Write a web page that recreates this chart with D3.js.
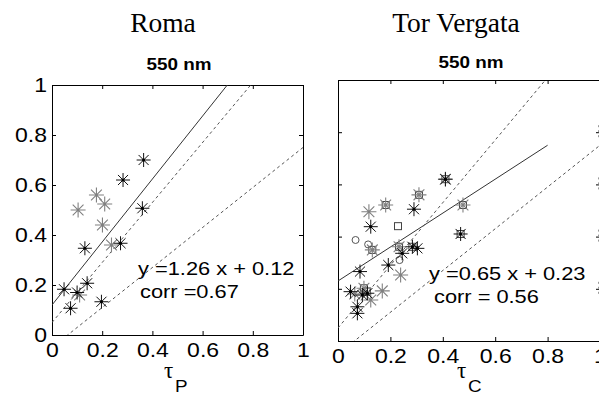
<!DOCTYPE html>
<html>
<head>
<meta charset="utf-8">
<script src="https://cdn.jsdelivr.net/npm/d3@7"></script>
<style>
  body { margin: 0; background: #fff; }
  svg { display: block; }
</style>
</head>
<body>
<div id="chart"></div>
<script>
// tick values / labels shared by both panels
const ticks = [0, 0.2, 0.4, 0.6, 0.8, 1];
const tickLabels = ["0", "0.2", "0.4", "0.6", "0.8", "1"];

// Roma (tau_P vs AOT at 550 nm)
const romaBlack = [[0.365, 0.70], [0.283, 0.62], [0.36, 0.507], [0.131, 0.347], [0.273, 0.367],
                   [0.048, 0.183], [0.10, 0.17], [0.14, 0.207], [0.074, 0.107], [0.197, 0.133]];
const romaGray = [[0.177, 0.56], [0.21, 0.524], [0.104, 0.50], [0.201, 0.44], [0.237, 0.36], [0.11, 0.16]];
const romaFit = [1.26, 0.12];   // slope, intercept
const romaCorr = 0.67;

// Tor Vergata (tau_C)
const tvBlack = [[0.41, 0.62], [0.29, 0.505], [0.125, 0.438], [0.468, 0.41], [0.245, 0.336], [0.192, 0.291],
                 [0.084, 0.266], [0.048, 0.189], [0.093, 0.176], [0.112, 0.183], [0.074, 0.131],
                 [0.074, 0.106], [0.303, 0.355], [0.284, 0.361]];
const tvGray = [[0.309, 0.56], [0.182, 0.521], [0.118, 0.495], [0.477, 0.521], [0.131, 0.349],
                [0.233, 0.361], [0.239, 0.253], [0.099, 0.202], [0.169, 0.192], [0.125, 0.157],
                [0.41, 0.62], [0.064, 0.18]];
const tvSquares = [[0.229, 0.44], [0.182, 0.521], [0.477, 0.521], [0.468, 0.41], [0.131, 0.349],
                   [0.233, 0.361], [0.284, 0.361], [0.099, 0.202], [0.309, 0.56], [0.41, 0.62], [0.11, 0.19]];
const tvCircles = [[0.067, 0.387], [0.115, 0.37], [0.235, 0.31]];
const tvFit = [0.65, 0.23];
const tvCorr = 0.56;

// expected error envelope (dashed)
const envUpper = [1.2, 0.05];
const envLower = [0.8, -0.05];

// the next panel's tick labels only show as a sliver at the right border
const nextPanelTicks = [0.8, 0.6, 0.4, 0.2];

const width = 599, height = 396;
const stretch = 1.18;  // sans text is a bit wide in the picture

let svg = d3.select("#chart")
    .append("svg")
    .attr("width", width)
    .attr("height", height);

function sansText(g, x, y, str, size, anchor, weight) {
    return g.append("text")
        .attr("transform", `translate(${x},${y}) scale(${stretch},1)`)
        .attr("text-anchor", anchor || "start")
        .attr("font-family", "Liberation Sans, Arial, sans-serif")
        .attr("font-size", size)
        .attr("font-weight", weight || "normal")
        .attr("fill", "#000")
        .text(str);
}

function starPath(r) {
    const d = r * 0.72;
    return `M${-r},0L${r},0M0,${-r}L0,${r}M${-d},${-d}L${d},${d}M${-d},${d}L${d},${-d}`;
}

function panel(opt) {
    const x = d3.scaleLinear().domain([0, 1]).range([opt.left, opt.right]);
    const y = d3.scaleLinear().domain([0, 1]).range([opt.bottom, opt.top]);
    const g = svg.append("g");

    const clipId = "clip" + opt.id;
    svg.append("clipPath").attr("id", clipId)
        .append("rect")
        .attr("x", opt.left).attr("y", opt.top)
        .attr("width", opt.right - opt.left).attr("height", opt.bottom - opt.top);

    // axes: inward ticks on every side (matlab box)
    g.append("g")
        .attr("transform", `translate(0,${opt.bottom})`)
        .call(d3.axisBottom(x).tickValues(ticks).tickSizeInner(-4).tickSizeOuter(0)
            .tickPadding(8).tickFormat((d, i) => tickLabels[i]));
    g.append("g")
        .attr("transform", `translate(0,${opt.top})`)
        .call(d3.axisTop(x).tickValues(ticks).tickSizeInner(-4).tickSizeOuter(0).tickFormat(""));
    g.append("g")
        .attr("transform", `translate(${opt.left},0)`)
        .call(d3.axisLeft(y).tickValues(ticks).tickSizeInner(-4).tickSizeOuter(0)
            .tickPadding(6).tickFormat((d, i) => opt.yLabels ? tickLabels[i] : ""));
    g.append("g")
        .attr("transform", `translate(${opt.right},0)`)
        .call(d3.axisRight(y).tickValues(ticks).tickSizeInner(-4).tickSizeOuter(0).tickFormat(""));

    g.selectAll(".domain").attr("stroke", "#000").attr("stroke-width", 1);
    g.selectAll(".tick line").attr("stroke", "#000");
    g.selectAll(".tick text")
        .attr("font-family", "Liberation Sans, Arial, sans-serif")
        .attr("font-size", 19.5)
        .attr("fill", "#000");
    // widen the labels like the picture
    g.selectAll(".tick text").each(function () {
        const t = d3.select(this);
        if (t.attr("x") && +t.attr("x") < 0) {
            t.attr("x", -5 / stretch);
        }
        t.attr("transform", `scale(${stretch},1)`);
    });

    // lines
    const lines = g.append("g").attr("clip-path", `url(#${clipId})`);
    const line = d3.line().x(d => x(d[0])).y(d => y(d[1]));
    const ends = (coef, xmax) => [[0, coef[1]], [xmax, coef[0] * xmax + coef[1]]];

    lines.append("path").attr("d", line(ends(opt.fit, opt.fitMax)))
        .attr("fill", "none").attr("stroke", "#333").attr("stroke-width", 1);
    lines.append("path").attr("d", line(ends(envUpper, 1)))
        .attr("fill", "none").attr("stroke", "#555").attr("stroke-width", 1)
        .attr("stroke-dasharray", "3,3");
    lines.append("path").attr("d", line(ends(envLower, 1)))
        .attr("fill", "none").attr("stroke", "#555").attr("stroke-width", 1)
        .attr("stroke-dasharray", "3,3");

    // markers
    const marks = g.append("g");
    if (opt.squares) {
        marks.selectAll(".sq").data(opt.squares).join("rect")
            .attr("x", d => x(d[0]) - 3.5).attr("y", d => y(d[1]) - 3.5)
            .attr("width", 7).attr("height", 7)
            .attr("fill", "none").attr("stroke", "#444").attr("stroke-width", 1);
    }
    if (opt.circles) {
        marks.selectAll(".ci").data(opt.circles).join("circle")
            .attr("cx", d => x(d[0])).attr("cy", d => y(d[1])).attr("r", 3.5)
            .attr("fill", "none").attr("stroke", "#555").attr("stroke-width", 1);
    }
    marks.selectAll(".sg").data(opt.gray).join("path")
        .attr("transform", d => `translate(${x(d[0])},${y(d[1])})`)
        .attr("d", starPath(7.5))
        .attr("fill", "none").attr("stroke", "#808080").attr("stroke-width", 1.1);
    marks.selectAll(".sb").data(opt.black).join("path")
        .attr("transform", d => `translate(${x(d[0])},${y(d[1])})`)
        .attr("d", starPath(7))
        .attr("fill", "none").attr("stroke", "#111").attr("stroke-width", 1);
    marks.selectAll(".dot").data(opt.black).join("circle")
        .attr("cx", d => x(d[0])).attr("cy", d => y(d[1])).attr("r", 1.6)
        .attr("fill", "#000");

    // titles
    svg.append("text")
        .attr("x", opt.titleX).attr("y", 32)
        .attr("text-anchor", "middle")
        .attr("font-family", "Liberation Serif, Times New Roman, serif")
        .attr("font-size", 27.5)
        .text(opt.title);
    sansText(svg, opt.subX, opt.subY, "550 nm", 16, "middle", "bold");

    // fit annotation
    sansText(svg, opt.eqX, opt.eqY, `y =${opt.fit[0].toFixed(2)} x + ${opt.fit[1].toFixed(2)}`, 18.5);
    sansText(svg, opt.eqX + opt.corrDx, opt.eqY + opt.corrDy, opt.corrText, 18.5);

    // x label: tau with subscript
    svg.append("text")
        .attr("x", opt.tauX).attr("y", 378)
        .attr("font-family", "Liberation Serif, Times New Roman, serif")
        .attr("font-size", 23)
        .text("\u03C4");
    sansText(svg, opt.tauX + 11, 392, opt.sub, 16);

    return {x, y};
}

panel({
    id: "roma", left: 52, right: 303, top: 85, bottom: 335, yLabels: true,
    black: romaBlack, gray: romaGray, fit: romaFit, fitMax: 1,
    title: "Roma", titleX: 163, subX: 179, subY: 70,
    eqX: 138, eqY: 275, corrDx: 2, corrDy: 23, corrText: "corr =" + romaCorr.toFixed(2),
    tauX: 164, sub: "P"
});

const tv = panel({
    id: "tv", left: 338, right: 600, top: 80, bottom: 341, yLabels: false,
    black: tvBlack, gray: tvGray, squares: tvSquares, circles: tvCircles, fit: tvFit, fitMax: 0.8,
    title: "Tor Vergata", titleX: 456, subX: 471, subY: 68,
    eqX: 429, eqY: 280, corrDx: 5, corrDy: 23, corrText: "corr = " + tvCorr.toFixed(2),
    tauX: 457, sub: "C"
});

// sliver of the next panel's labels at the right border
svg.selectAll(".next").data(nextPanelTicks).join("line")
    .attr("x1", 598.5).attr("x2", 598.5)
    .attr("y1", d => tv.y(d) - 7).attr("y2", d => tv.y(d) + 7)
    .attr("stroke", "#999")
    .attr("stroke-dasharray", "2,3");
</script>
</body>
</html>
